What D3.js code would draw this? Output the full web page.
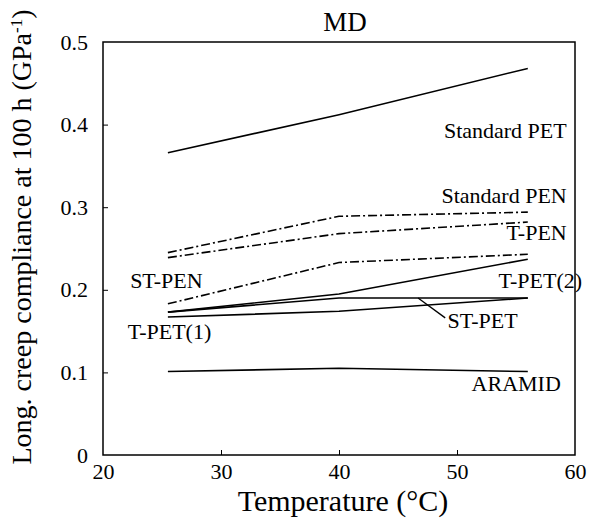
<!DOCTYPE html>
<html><head><meta charset="utf-8">
<script src="https://cdn.jsdelivr.net/npm/d3@7"></script>
<style>body{margin:0;background:#fff}svg{display:block}text{font-family:"Liberation Serif","Times New Roman",serif;fill:#000}</style>
</head><body><svg id="c" width="598" height="524"></svg>
<script>
const temps = [25.5, 40, 56];
const standardPET = [0.366, 0.412, 0.468];
const standardPEN = [0.245, 0.289, 0.294];
const tPEN = [0.239, 0.268, 0.282];
const stPEN = [0.183, 0.233, 0.243];
const tPET2 = [0.173, 0.195, 0.237];
const stPET = [0.173, 0.190, 0.190];
const tPET1 = [0.167, 0.174, 0.190];
const aramid = [0.101, 0.105, 0.101];
const xTicks = [20, 30, 40, 50, 60];
const yTicks = [0, 0.1, 0.2, 0.3, 0.4, 0.5];

const series = [
  {name: "Standard PET", values: standardPET, dash: null},
  {name: "Standard PEN", values: standardPEN, dash: "9,3,2,3"},
  {name: "T-PEN", values: tPEN, dash: "9,3,2,3"},
  {name: "ST-PEN", values: stPEN, dash: "9,3,2,3"},
  {name: "T-PET(2)", values: tPET2, dash: null},
  {name: "ST-PET", values: stPET, dash: null},
  {name: "T-PET(1)", values: tPET1, dash: null},
  {name: "ARAMID", values: aramid, dash: null}
];
// label anchor in data coords
const labels = [
  {t: "Standard PET", x: 59.3, y: 0.390, a: "end"},
  {t: "Standard PEN", x: 59.3, y: 0.311, a: "end"},
  {t: "T-PEN", x: 59.3, y: 0.267, a: "end"},
  {t: "ST-PEN", x: 22.3, y: 0.208, a: "start"},
  {t: "T-PET(2)", x: 60.6, y: 0.208, a: "end"},
  {t: "ST-PET", x: 49.2, y: 0.160, a: "start"},
  {t: "T-PET(1)", x: 22.1, y: 0.147, a: "start"},
  {t: "ARAMID", x: 58.8, y: 0.083, a: "end"}
];

const svg = d3.select("#c");
const L = 103, R = 575, T = 42, B = 455;
const x = d3.scaleLinear().domain([20, 60]).range([L, R]);
const y = d3.scaleLinear().domain([0, 0.5]).range([B, T]);

svg.append("rect").attr("x", L).attr("y", T).attr("width", R - L).attr("height", B - T)
  .attr("fill", "none").attr("stroke", "#000").attr("stroke-width", 1.5);

const xa = svg.append("g").attr("transform", `translate(0,${B})`)
  .call(d3.axisBottom(x).tickValues(xTicks).tickSize(-5).tickPadding(8).tickFormat(d3.format("d")));
const ya = svg.append("g").attr("transform", `translate(${L},0)`)
  .call(d3.axisLeft(y).tickValues(yTicks).tickSize(-5).tickPadding(15).tickFormat(d => d === 0 ? "0" : d3.format(".1f")(d)));
[xa, ya].forEach(g => {
  g.select(".domain").remove();
  g.selectAll("line").attr("stroke", "#000");
  g.selectAll("text").style("font-size", "22px").style("font-family", '"Liberation Serif",serif');
});
xa.selectAll(".tick line").filter(d => d === 20 || d === 60).remove();
ya.selectAll(".tick line").filter(d => d === 0 || d === 0.5).remove();

const line = d3.line().x((d, i) => x(temps[i])).y(d => y(d));
series.forEach(s => {
  svg.append("path").attr("d", line(s.values)).attr("fill", "none")
    .attr("stroke", "#000").attr("stroke-width", 1.6)
    .attr("stroke-dasharray", s.dash);
});

labels.forEach(l => {
  svg.append("text").attr("x", x(l.x)).attr("y", y(l.y)).attr("text-anchor", l.a)
    .attr("dominant-baseline", "middle").style("font-size", "22px").text(l.t);
});
// leader line for ST-PET
svg.append("line").attr("x1", x(46.7)).attr("y1", y(0.190)).attr("x2", x(49.0)).attr("y2", y(0.166))
  .attr("stroke", "#000").attr("stroke-width", 1.3);

svg.append("text").attr("x", 345).attr("y", 31).attr("text-anchor", "middle")
  .style("font-size", "27px").text("MD");
svg.append("text").attr("x", 343).attr("y", 511).attr("text-anchor", "middle")
  .style("font-size", "30px").text("Temperature (°C)");
const yl = svg.append("text").attr("transform", `translate(31,237) rotate(-90)`)
  .attr("text-anchor", "middle").style("font-size", "28px");
yl.append("tspan").text("Long. creep compliance at 100 h (GPa");
yl.append("tspan").attr("baseline-shift", "super").style("font-size", "17px").text("-1");
yl.append("tspan").text(")");
</script></body></html>
